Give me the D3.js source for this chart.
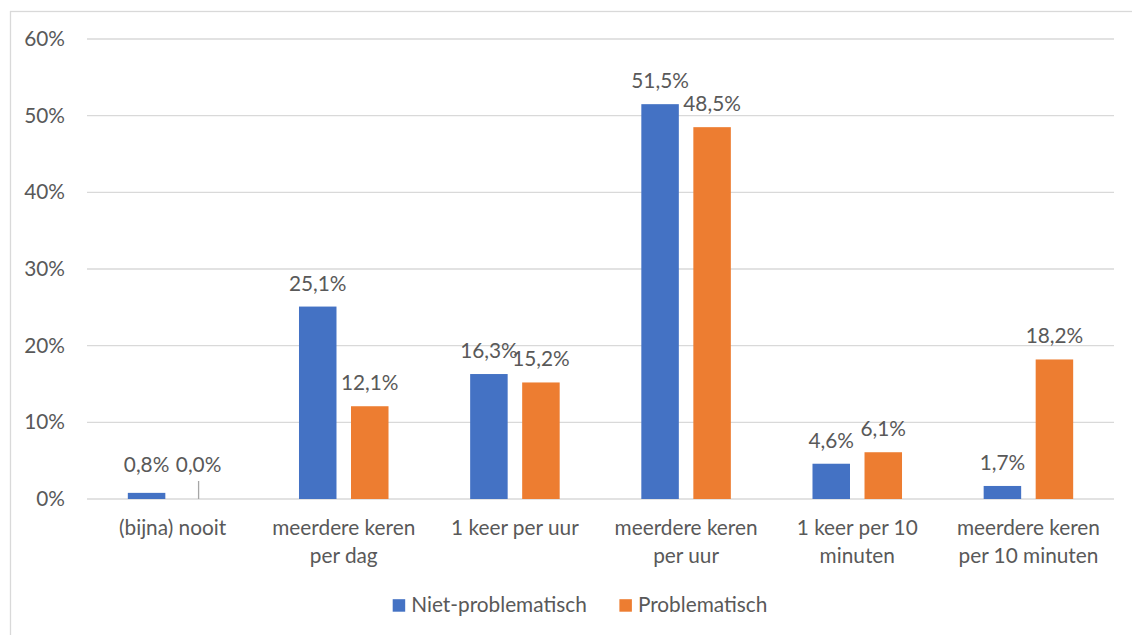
<!DOCTYPE html>
<html>
<head>
<meta charset="utf-8">
<script src="https://cdn.jsdelivr.net/npm/d3@7"></script>
<style>
  html, body { margin: 0; padding: 0; background: #fff; }
  svg { display: block; }
  text { font-family: Lato, "Open Sans", sans-serif; fill: #595959; }
</style>
</head>
<body>
<svg id="chart" width="1132" height="635"></svg>
<script>
// ---- data ----
const categories = [
  ["(bijna) nooit"],
  ["meerdere keren", "per dag"],
  ["1 keer per uur"],
  ["meerdere keren", "per uur"],
  ["1 keer per 10", "minuten"],
  ["meerdere keren", "per 10 minuten"]
];
const seriesNames = ["Niet-problematisch", "Problematisch"];
const nietProblematisch = [0.008, 0.251, 0.163, 0.515, 0.046, 0.017];
const problematisch     = [0.000, 0.121, 0.152, 0.485, 0.061, 0.182];
const seriesColors = ["#4472C4", "#ED7D31"];
const yTicks = [0, 0.1, 0.2, 0.3, 0.4, 0.5, 0.6];

// ---- layout ----
const svg = d3.select("#chart");
const W = 1132, H = 635;
const plot = { left: 87, right: 1114, top: 39, bottom: 499 };
const fontSize = 20.8;

// chart border
svg.append("rect")
  .attr("x", 10.5).attr("y", 11.5)
  .attr("width", W + 20).attr("height", H + 20)
  .attr("fill", "none").attr("stroke", "#D9D9D9").attr("stroke-width", 1.3);

const catKeys = categories.map(c => c.join(" "));
const x0 = d3.scaleBand().domain(catKeys).range([plot.left, plot.right])
  .paddingInner(0.477).paddingOuter(0.2385);
const x1 = d3.scaleBand().domain(seriesNames).range([0, x0.bandwidth()])
  .paddingInner(0.279).paddingOuter(0);
const y = d3.scaleLinear().domain([0, 0.6]).range([plot.bottom, plot.top]);

// gridlines
svg.append("g").selectAll("line").data(yTicks).join("line")
  .attr("x1", plot.left).attr("x2", plot.right)
  .attr("y1", d => y(d)).attr("y2", d => y(d))
  .attr("stroke", "#D9D9D9").attr("stroke-width", 1.3);

// y axis labels
const yAxis = d3.axisLeft(y).tickValues(yTicks).tickFormat(d3.format(".0%"))
  .tickSize(0).tickPadding(22);
const yg = svg.append("g").attr("transform", `translate(${plot.left},0)`).call(yAxis);
yg.select(".domain").remove();
yg.selectAll("text").attr("font-size", fontSize).attr("font-family", "Lato").attr("fill", "#595959");

// bars
const rows = catKeys.map((k, i) => ({
  key: k,
  vals: [
    { s: seriesNames[0], v: nietProblematisch[i], c: seriesColors[0] },
    { s: seriesNames[1], v: problematisch[i], c: seriesColors[1] }
  ]
}));

const gCat = svg.append("g").selectAll("g").data(rows).join("g")
  .attr("transform", d => `translate(${x0(d.key)},0)`);

gCat.selectAll("rect").data(d => d.vals).join("rect")
  .attr("x", d => x1(d.s))
  .attr("y", d => y(d.v))
  .attr("width", x1.bandwidth())
  .attr("height", d => y(0) - y(d.v))
  .attr("fill", d => d.c);

const fmt = v => (v * 100).toFixed(1).replace(".", ",") + "%";
const labelY = d => Math.min(y(d.v) - 16, y(0) - 27);

// leader lines for zero values
gCat.selectAll("line.leader").data(d => d.vals.filter(v => v.v === 0)).join("line")
  .attr("class", "leader")
  .attr("x1", d => x1(d.s) + x1.bandwidth() / 2)
  .attr("x2", d => x1(d.s) + x1.bandwidth() / 2)
  .attr("y1", y(0)).attr("y2", y(0) - 18)
  .attr("stroke", "#A6A6A6").attr("stroke-width", 1.3);

gCat.selectAll("text.val").data(d => d.vals).join("text")
  .attr("class", "val")
  .attr("x", d => x1(d.s) + x1.bandwidth() / 2)
  .attr("y", d => labelY(d))
  .attr("text-anchor", "middle")
  .attr("font-size", fontSize)
  .text(d => fmt(d.v));

// category labels
const catG = svg.append("g");
categories.forEach((lines, i) => {
  const cx = x0(catKeys[i]) + x0.bandwidth() / 2;
  const t = catG.append("text").attr("text-anchor", "middle").attr("font-size", fontSize);
  lines.forEach((ln, j) => {
    t.append("tspan").attr("x", cx).attr("y", 535 + j * 28).text(ln);
  });
});

// legend
const legend = svg.append("g");
const items = seriesNames.map((n, i) => ({ n, c: seriesColors[i] }));
let cursor = 0;
items.forEach(it => {
  const g = legend.append("g").attr("transform", `translate(${cursor},0)`);
  g.append("rect").attr("x", 0).attr("y", -12.5).attr("width", 12.5).attr("height", 12.5).attr("fill", it.c);
  const t = g.append("text").attr("x", 18.5).attr("y", 0).attr("font-size", fontSize).text(it.n);
  const w = t.node().getComputedTextLength();
  cursor += 18.5 + w + 32.6;
});
const legendWidth = cursor - 32.6;
legend.attr("transform", `translate(${580 - legendWidth / 2},611.7)`);
</script>
</body>
</html>
